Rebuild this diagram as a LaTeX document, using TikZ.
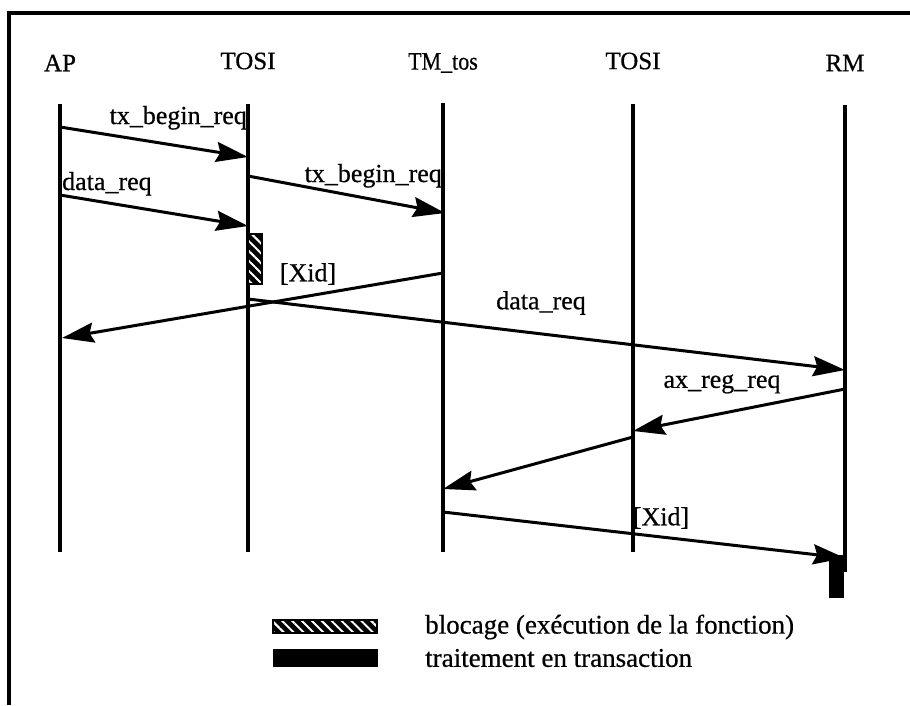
\documentclass[tikz,border=0pt]{standalone}
\usepackage{fontspec}
\setmainfont{Liberation Serif}
\newfontfamily\txtfont{Liberation Serif}[FakeBold=0.6]
\usetikzlibrary{arrows.meta,patterns.meta}
\begin{document}
\begin{tikzpicture}[x=1pt,y=-1pt,
  life/.style={line width=3.2pt},
  msg/.style={line width=3pt,-{Stealth[length=32pt,width=20pt,inset=4pt]}},
  hdr/.style={font=\txtfont\fontsize{25}{29}\selectfont, inner sep=0pt},
  lbl/.style={font=\txtfont\fontsize{26}{30}\selectfont, inner sep=0pt},
  leg/.style={font=\txtfont\fontsize{27}{31}\selectfont, inner sep=0pt},
  hatchbox/.style={fill=black, draw=black, line width=1pt},
  hatchpat/.style={pattern={Lines[angle=-45,distance=7pt,line width=2pt]}, pattern color=white},
  solidbox/.style={fill=black, draw=black, line width=1pt},
]
\useasboundingbox (0,0) rectangle (910,705);
% frame
\coordinate (frTL) at (9,13);
\coordinate (frTR) at (910,13);
\coordinate (frBL) at (9,705);
\draw[line width=3.2pt] (frBL) -- (frTL) -- (frTR);

% headers
\node[hdr] (hAP) at (60,63) {AP};
\node[hdr] (hTOSIa) at (248,61) {TOSI};
\node[hdr] (hTM) at (443,63) {\scalebox{0.88}[1]{TM\_tos}};
\node[hdr] (hTOSIb) at (633,61) {TOSI};
\node[hdr] (hRM) at (845,63) {RM};

% lifelines
\coordinate (apT) at (60,104);   \coordinate (apB) at (60,552);
\coordinate (toaT) at (248,104); \coordinate (toaB) at (248,552);
\coordinate (tmT) at (443,103);  \coordinate (tmB) at (443,552);
\coordinate (tobT) at (633,104); \coordinate (tobB) at (633,552);
\coordinate (rmT) at (845,105);  \coordinate (rmB) at (845,572);
\draw[life] (apT) -- (apB);
\draw[life] (toaT) -- (toaB);
\draw[life] (tmT) -- (tmB);
\draw[life] (tobT) -- (tobB);
\draw[life] (rmT) -- (rmB);

% blocking box on TOSI
\coordinate (blA) at (248,234); \coordinate (blB) at (262,284);
\fill[hatchbox] (blA) rectangle (blB);
\fill[hatchpat] (blA) rectangle (blB);
\draw[line width=1.2pt] (blA) rectangle (blB);

% processing bar on RM
\coordinate (trA) at (829,555); \coordinate (trB) at (843,597);
\fill[solidbox] (trA) rectangle (trB);

% messages
\coordinate (m1s) at (60,127);  \coordinate (m1e) at (248,157);
\coordinate (m2s) at (60,195);  \coordinate (m2e) at (248,226);
\coordinate (m3s) at (248,176); \coordinate (m3e) at (445,213);
\coordinate (m4s) at (443,273); \coordinate (m4e) at (62,338);
\coordinate (m5s) at (248,299); \coordinate (m5e) at (845,370);
\coordinate (m6s) at (845,389); \coordinate (m6e) at (633,431);
\coordinate (m7s) at (633,437); \coordinate (m7e) at (443,489);
\coordinate (m8s) at (443,512); \coordinate (m8e) at (845,558);
\draw[msg] (m1s) -- (m1e);
\draw[msg] (m2s) -- (m2e);
\draw[msg] (m3s) -- (m3e);
\draw[msg] (m4s) -- (m4e);
\draw[msg] (m5s) -- (m5e);
\draw[msg] (m6s) -- (m6e);
\draw[msg] (m7s) -- (m7e);
\draw[msg] (m8s) -- (m8e);

% labels
\node[lbl, anchor=base east] (l1) at (247,124) {tx\_begin\_req};
\node[lbl, anchor=base west] (l2) at (62,190) {data\_req};
\node[lbl, anchor=base east] (l3) at (442,182) {tx\_begin\_req};
\node[lbl] (l4) at (308,274) {[Xid]};
\node[lbl] (l5) at (541,303) {data\_req};
\node[lbl] (l6) at (722,384) {ax\_reg\_req};
\node[lbl] (l7) at (661,518) {[Xid]};

% legend
\coordinate (lgA) at (273,620); \coordinate (lgB) at (377,633);
\fill[hatchbox] (lgA) rectangle (lgB);
\fill[hatchpat] (lgA) rectangle (lgB);
\draw[line width=1.2pt] (lgA) rectangle (lgB);
\coordinate (lsA) at (273,649); \coordinate (lsB) at (377,666);
\fill[solidbox] (lsA) rectangle (lsB);
\node[leg, anchor=west] (lt1) at (425,627) {blocage (exécution de la fonction)};
\node[leg, anchor=west] (lt2) at (425,658) {traitement en transaction};
\end{tikzpicture}
\end{document}
